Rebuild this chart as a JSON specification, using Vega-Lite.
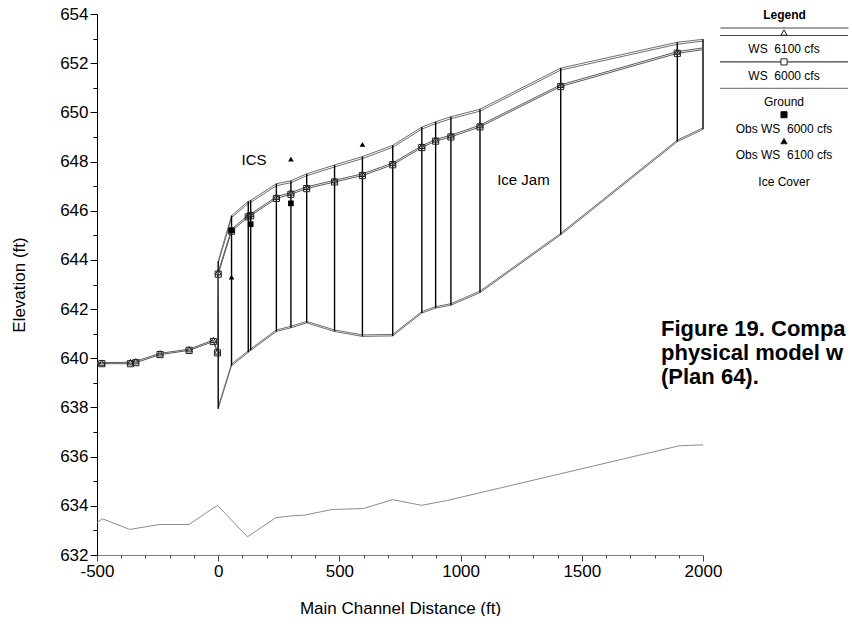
{
  "$schema": "https://vega.github.io/schema/vega-lite/v6.json",
  "background": "white",
  "padding": {"left": 10, "top": 5, "right": 0, "bottom": 0},
  "bounds": "flush",
  "spacing": 17,
  "config": {
    "font": "Liberation Sans",
    "view": {"stroke": null},
    "axis": {
      "grid": false,
      "labelFont": "Liberation Sans",
      "titleFont": "Liberation Sans",
      "labelColor": "#000",
      "titleColor": "#000",
      "titleFontWeight": "normal"
    }
  },
  "datasets": {
    "ground": [
      {"station": -500, "elev": 633.32},
      {"station": -477, "elev": 633.47},
      {"station": -365, "elev": 633.04},
      {"station": -243, "elev": 633.24},
      {"station": -121, "elev": 633.24},
      {"station": -3, "elev": 634.02},
      {"station": 121, "elev": 632.74},
      {"station": 238, "elev": 633.52},
      {"station": 312, "elev": 633.6},
      {"station": 356, "elev": 633.62},
      {"station": 469, "elev": 633.85},
      {"station": 599, "elev": 633.89},
      {"station": 720, "elev": 634.25},
      {"station": 839, "elev": 634.02},
      {"station": 946, "elev": 634.22},
      {"station": 1901, "elev": 636.44},
      {"station": 2000, "elev": 636.48}
    ],
    "sections": [
      {"station": -500, "ws6100": 639.82, "ws6000": 639.78},
      {"station": -480, "ws6100": 639.82, "ws6000": 639.78},
      {"station": -362, "ws6100": 639.84, "ws6000": 639.78},
      {"station": -340, "ws6100": 639.88, "ws6000": 639.82},
      {"station": -240, "ws6100": 640.2, "ws6000": 640.15},
      {"station": -120, "ws6100": 640.37, "ws6000": 640.32},
      {"station": -20, "ws6100": 640.74, "ws6000": 640.68},
      {"station": -3, "ws6100": 640.28, "ws6000": 640.22},
      {"station": 0, "ws6100": 643.5, "ws6000": 643.42, "iceTop6100": 643.95, "iceTop6000": 643.86, "iceBottom6100": 638.02, "iceBottom6000": 637.95},
      {"station": 55, "ws6100": 645.25, "ws6000": 645.17, "iceTop6100": 645.8, "iceTop6000": 645.72, "iceBottom6100": 639.77, "iceBottom6000": 639.7},
      {"station": 124, "ws6100": 645.82, "ws6000": 645.75, "iceTop6100": 646.38, "iceTop6000": 646.3, "iceBottom6100": 640.3, "iceBottom6000": 640.24},
      {"station": 134, "ws6100": 645.87, "ws6000": 645.8, "iceTop6100": 646.42, "iceTop6000": 646.34, "iceBottom6100": 640.38, "iceBottom6000": 640.32},
      {"station": 240, "ws6100": 646.57, "ws6000": 646.5, "iceTop6100": 647.1, "iceTop6000": 647.02, "iceBottom6100": 641.15, "iceBottom6000": 641.09},
      {"station": 300, "ws6100": 646.74, "ws6000": 646.67, "iceTop6100": 647.22, "iceTop6000": 647.14, "iceBottom6100": 641.3, "iceBottom6000": 641.24},
      {"station": 365, "ws6100": 646.97, "ws6000": 646.9, "iceTop6100": 647.5, "iceTop6000": 647.42, "iceBottom6100": 641.5, "iceBottom6000": 641.44},
      {"station": 480, "ws6100": 647.24, "ws6000": 647.17, "iceTop6100": 647.86, "iceTop6000": 647.78, "iceBottom6100": 641.15, "iceBottom6000": 641.09},
      {"station": 595, "ws6100": 647.5, "ws6000": 647.43, "iceTop6100": 648.2, "iceTop6000": 648.12, "iceBottom6100": 640.95, "iceBottom6000": 640.89},
      {"station": 720, "ws6100": 647.94, "ws6000": 647.87, "iceTop6100": 648.66, "iceTop6000": 648.58, "iceBottom6100": 640.97, "iceBottom6000": 640.91},
      {"station": 840, "ws6100": 648.64, "ws6000": 648.57, "iceTop6100": 649.4, "iceTop6000": 649.32, "iceBottom6100": 641.9, "iceBottom6000": 641.84},
      {"station": 897, "ws6100": 648.9, "ws6000": 648.83, "iceTop6100": 649.62, "iceTop6000": 649.54, "iceBottom6100": 642.1, "iceBottom6000": 642.04},
      {"station": 960, "ws6100": 649.07, "ws6000": 649.0, "iceTop6100": 649.82, "iceTop6000": 649.74, "iceBottom6100": 642.22, "iceBottom6000": 642.16},
      {"station": 1080, "ws6100": 649.48, "ws6000": 649.41, "iceTop6100": 650.13, "iceTop6000": 650.05, "iceBottom6100": 642.73, "iceBottom6000": 642.67},
      {"station": 1413, "ws6100": 651.12, "ws6000": 651.05, "iceTop6100": 651.8, "iceTop6000": 651.72, "iceBottom6100": 645.08, "iceBottom6000": 645.02},
      {"station": 1894, "ws6100": 652.47, "ws6000": 652.4, "iceTop6100": 652.85, "iceTop6000": 652.77, "iceBottom6100": 648.87, "iceBottom6000": 648.81},
      {"station": 2000, "ws6100": 652.62, "ws6000": 652.55, "iceTop6100": 652.97, "iceTop6000": 652.9, "iceBottom6100": 649.37, "iceBottom6000": 649.31}
    ],
    "observed": [
      {"station": 55, "elev": 643.3, "series": "Obs WS 6100 cfs"},
      {"station": 300, "elev": 648.1, "series": "Obs WS 6100 cfs"},
      {"station": 595, "elev": 648.7, "series": "Obs WS 6100 cfs"},
      {"station": 55, "elev": 645.2, "series": "Obs WS 6000 cfs"},
      {"station": 134, "elev": 645.45, "series": "Obs WS 6000 cfs"},
      {"station": 300, "elev": 646.3, "series": "Obs WS 6000 cfs"}
    ],
    "notes": [
      {"station": 148, "elev": 648.06, "label": "ICS"},
      {"station": 1259, "elev": 647.24, "label": "Ice Jam"}
    ],
    "legendEntries": [
      {"series": "WS\u00a0 6100 cfs"},
      {"series": "WS\u00a0 6000 cfs"},
      {"series": "Ground"},
      {"series": "Obs WS\u00a0 6000 cfs"},
      {"series": "Obs WS\u00a0 6100 cfs"},
      {"series": "Ice Cover"}
    ]
  },
  "hconcat": [
    {
      "width": 606,
      "height": 541,
      "resolve": {"axis": {"x": "independent", "y": "independent"}},
      "layer": [
        {
          "data": {"name": "ground"},
          "mark": {"type": "line", "color": "#8c8c8c", "strokeWidth": 1},
          "encoding": {
            "x": {
              "field": "station", "type": "quantitative", "title": "Main Channel Distance (ft)",
              "scale": {"domain": [-500, 2000], "nice": false, "zero": false},
              "axis": {
                "orient": "bottom",
                "values": [-500, 0, 500, 1000, 1500, 2000],
                "labelExpr": "toString(datum.value)",
                "labelFontSize": 17, "labelFlush": false, "labelOverlap": false, "labelPadding": 2,
                "tickSize": 6, "tickColor": "#444", "domainColor": "#808080",
                "titleFontSize": 17, "titlePadding": 21
              }
            },
            "y": {
              "field": "elev", "type": "quantitative", "title": "Elevation (ft)",
              "scale": {"domain": [632, 654], "nice": false, "zero": false},
              "axis": {
                "orient": "left",
                "values": [632, 634, 636, 638, 640, 642, 644, 646, 648, 650, 652, 654],
                "labelExpr": "toString(datum.value)",
                "labelFontSize": 17, "labelOverlap": false, "labelPadding": 2,
                "tickSize": 7, "tickColor": "#000", "domainColor": "#000",
                "titleFontSize": 17, "titlePadding": 31
              }
            }
          }
        },
        {
          "data": {"name": "sections"},
          "transform": [
            {"fold": ["iceTop6100", "iceTop6000", "iceBottom6100", "iceBottom6000"], "as": ["surface", "elev"]},
            {"filter": "isValid(datum.elev)"}
          ],
          "mark": {"type": "line", "color": "#6e6e6e", "strokeWidth": 1},
          "encoding": {
            "x": {
              "field": "station", "type": "quantitative",
              "axis": {
                "orient": "bottom", "title": null, "labels": false, "domain": false,
                "values": [-400, -300, -200, -100, 100, 200, 300, 400, 600, 700, 800, 900, 1100, 1200, 1300, 1400, 1600, 1700, 1800, 1900],
                "tickSize": 3, "tickColor": "#444"
              }
            },
            "y": {
              "field": "elev", "type": "quantitative",
              "axis": {
                "orient": "left", "title": null, "labels": false, "domain": false,
                "values": [633, 635, 637, 639, 641, 643, 645, 647, 649, 651, 653],
                "tickSize": 4, "tickColor": "#000"
              }
            },
            "detail": {"field": "surface"}
          }
        },
        {
          "data": {"name": "sections"},
          "transform": [{"filter": "isValid(datum.iceTop6100)"}],
          "mark": {"type": "rule", "color": "#000", "strokeWidth": 1.4},
          "encoding": {
            "x": {"field": "station", "type": "quantitative", "axis": null},
            "y": {"field": "iceTop6100", "type": "quantitative", "axis": null},
            "y2": {"field": "iceBottom6000"}
          }
        },
        {
          "data": {"name": "sections"},
          "transform": [
            {"fold": ["ws6100", "ws6000"], "as": ["profile", "elev"]},
            {"filter": "isValid(datum.elev)"}
          ],
          "mark": {"type": "line", "color": "#5a5a5a", "strokeWidth": 1},
          "encoding": {
            "x": {"field": "station", "type": "quantitative", "axis": null},
            "y": {"field": "elev", "type": "quantitative", "axis": null},
            "detail": {"field": "profile"}
          }
        },
        {
          "data": {"name": "sections"},
          "transform": [{"filter": "datum.station > -500 && datum.station < 2000"}],
          "mark": {"type": "point", "shape": "triangle-up", "filled": false, "color": "#222", "strokeWidth": 1, "size": 38, "opacity": 1},
          "encoding": {
            "x": {"field": "station", "type": "quantitative", "axis": null},
            "y": {"field": "ws6100", "type": "quantitative", "axis": null}
          }
        },
        {
          "data": {"name": "sections"},
          "transform": [{"filter": "datum.station > -500 && datum.station < 2000"}],
          "mark": {"type": "point", "shape": "square", "filled": false, "color": "#222", "strokeWidth": 1, "size": 38, "opacity": 1},
          "encoding": {
            "x": {"field": "station", "type": "quantitative", "axis": null},
            "y": {"field": "ws6000", "type": "quantitative", "axis": null}
          }
        },
        {
          "data": {"name": "observed"},
          "transform": [{"filter": "datum.series === 'Obs WS 6000 cfs'"}],
          "mark": {"type": "point", "shape": "square", "filled": true, "color": "#000", "size": 32, "opacity": 1},
          "encoding": {
            "x": {"field": "station", "type": "quantitative", "axis": null},
            "y": {"field": "elev", "type": "quantitative", "axis": null}
          }
        },
        {
          "data": {"name": "observed"},
          "transform": [{"filter": "datum.series === 'Obs WS 6100 cfs'"}],
          "mark": {"type": "point", "shape": "triangle-up", "filled": true, "color": "#000", "size": 32, "opacity": 1},
          "encoding": {
            "x": {"field": "station", "type": "quantitative", "axis": null},
            "y": {"field": "elev", "type": "quantitative", "axis": null}
          }
        },
        {
          "data": {"name": "notes"},
          "mark": {"type": "text", "fontSize": 15, "color": "#000", "align": "center", "baseline": "middle", "font": "Liberation Sans"},
          "encoding": {
            "x": {"field": "station", "type": "quantitative", "axis": null},
            "y": {"field": "elev", "type": "quantitative", "axis": null},
            "text": {"field": "label"}
          }
        }
      ]
    },
    {
      "width": 128,
      "height": 175,
      "data": {"name": "legendEntries"},
      "title": {
        "text": ["Figure 19. Compa", "physical model w", "(Plan 64)."],
        "orient": "bottom", "anchor": "start", "frame": "group",
        "offset": 130, "dx": -59,
        "font": "Liberation Sans", "fontSize": 22, "fontWeight": "bold", "lineHeight": 24,
        "color": "#000", "baseline": "top"
      },
      "encoding": {
        "x": {
          "datum": 0.5, "type": "quantitative", "scale": {"domain": [0, 1]},
          "axis": {
            "orient": "top", "offset": -13.5, "title": "Legend",
            "titleFontWeight": "bold", "titleFontSize": 12, "titlePadding": 6,
            "labels": false, "ticks": false, "domain": true, "domainColor": "#444", "grid": false
          }
        },
        "y": {
          "field": "series", "type": "nominal", "sort": null,
          "scale": {"type": "point", "padding": 0.814},
          "axis": null
        }
      },
      "layer": [
        {
          "transform": [{"filter": {"field": "series", "oneOf": ["WS\u00a0 6100 cfs", "WS\u00a0 6000 cfs", "Ground"]}}],
          "mark": {"type": "rule", "strokeWidth": 1.2},
          "encoding": {
            "x": null,
            "color": {
              "field": "series", "type": "nominal", "legend": null,
              "scale": {"domain": ["WS\u00a0 6100 cfs", "WS\u00a0 6000 cfs", "Ground"], "range": ["#444444", "#444444", "#808080"]}
            }
          }
        },
        {
          "transform": [{"filter": {"field": "series", "equal": "WS\u00a0 6100 cfs"}}],
          "mark": {"type": "point", "shape": "triangle-up", "size": 38, "stroke": "#222", "fill": "#ffffff", "strokeWidth": 1, "opacity": 1, "filled": true},
          "encoding": {
            "yOffset": {"value": -3}
          }
        },
        {
          "transform": [{"filter": {"field": "series", "oneOf": ["WS\u00a0 6000 cfs", "Obs WS\u00a0 6000 cfs", "Obs WS\u00a0 6100 cfs"]}}],
          "mark": {"type": "point", "size": 38, "stroke": "#222", "strokeWidth": 1, "opacity": 1, "filled": true},
          "encoding": {
            "shape": {
              "field": "series", "type": "nominal", "legend": null,
              "scale": {"domain": ["WS\u00a0 6000 cfs", "Obs WS\u00a0 6000 cfs", "Obs WS\u00a0 6100 cfs"], "range": ["square", "square", "triangle-up"]}
            },
            "fill": {
              "field": "series", "type": "nominal", "legend": null,
              "scale": {"domain": ["WS\u00a0 6000 cfs", "Obs WS\u00a0 6000 cfs", "Obs WS\u00a0 6100 cfs"], "range": ["#ffffff", "#000000", "#000000"]}
            }
          }
        },
        {
          "mark": {"type": "text", "dy": 14, "fontSize": 12, "font": "Liberation Sans", "color": "#000", "align": "center", "baseline": "middle"},
          "encoding": {
            "text": {"field": "series"}
          }
        }
      ]
    }
  ]
}
